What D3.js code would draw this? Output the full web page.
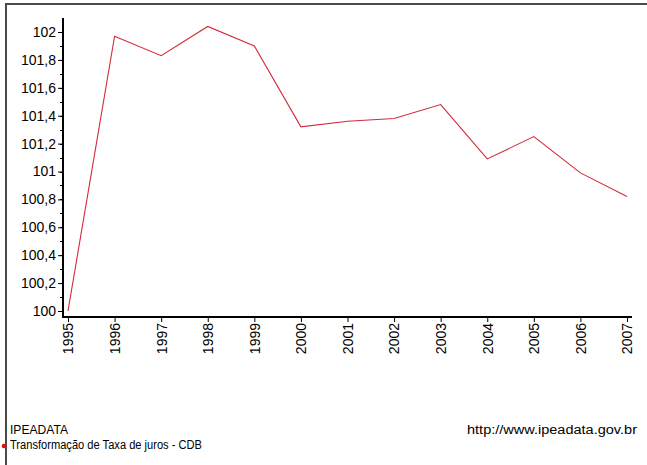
<!DOCTYPE html>
<html>
<head>
<meta charset="utf-8">
<script src="https://cdn.jsdelivr.net/npm/d3@7"></script>
<style>
  html, body { margin: 0; padding: 0; background: #fff; }
  svg { display: block; font-family: "Liberation Sans", Arial, sans-serif; }
</style>
</head>
<body>
<svg id="chart" width="647" height="465"></svg>
<script>
const years = [1995, 1996, 1997, 1998, 1999, 2000, 2001, 2002, 2003, 2004, 2005, 2006, 2007];
const values = [100.00, 101.97, 101.83, 102.04, 101.90, 101.32, 101.36, 101.38, 101.48, 101.09, 101.25, 100.99, 100.82];
const yTicks = [100, 100.2, 100.4, 100.6, 100.8, 101, 101.2, 101.4, 101.6, 101.8, 102];
const seriesName = "Transformação de Taxa de juros - CDB";
const sourceLabel = "IPEADATA";
const urlLabel = "http://www.ipeadata.gov.br";

const svg = d3.select("#chart");

// frame
svg.append("rect").attr("x", 6).attr("y", 4).attr("width", 660).attr("height", 480)
  .attr("fill", "none").attr("stroke", "#4a4a4a").attr("stroke-width", 2);

const x = d3.scalePoint().domain(years).range([68, 627]);
const y = d3.scaleLinear().domain([100, 102]).range([311, 32]);

const fmt = v => d3.format(".1~f")(v).replace(".", ",");

// minor ticks
const minor = d3.range(0, 21).map(i => 100 + i * 0.1);
svg.append("g").selectAll("line").data(minor).join("line")
  .attr("x1", 60).attr("x2", 63)
  .attr("y1", d => Math.round(y(d)) + 0.5).attr("y2", d => Math.round(y(d)) + 0.5)
  .attr("stroke", "#000");

const yAxis = d3.axisLeft(y).tickValues(yTicks).tickFormat(fmt).tickSize(5).tickPadding(2);
const gy = svg.append("g").attr("transform", "translate(63,0)").call(yAxis);
gy.select(".domain").remove();
gy.selectAll("text").attr("font-size", 14).attr("fill", "#000").attr("font-family", "Liberation Sans, Arial, sans-serif");

const xAxis = d3.axisBottom(x).tickSize(5).tickPadding(3);
const gx = svg.append("g").attr("transform", "translate(0,317)").call(xAxis);
gx.select(".domain").remove();
gx.selectAll("text")
  .attr("font-size", 14).attr("fill", "#000").attr("font-family", "Liberation Sans, Arial, sans-serif")
  .attr("text-anchor", "end").attr("dy", "0.35em")
  .attr("transform", "translate(0,6) rotate(-90)")
  .attr("x", 0).attr("y", 0);

// axis lines
svg.append("line").attr("x1", 63).attr("x2", 63).attr("y1", 18).attr("y2", 318)
  .attr("stroke", "#000").attr("stroke-width", 2);
svg.append("line").attr("x1", 62).attr("x2", 632).attr("y1", 317).attr("y2", 317)
  .attr("stroke", "#000").attr("stroke-width", 2);

// series line
const line = d3.line().x((d, i) => x(years[i])).y(d => y(d));
svg.append("path").datum(values).attr("d", line)
  .attr("fill", "none").attr("stroke", "#d42a3a").attr("stroke-width", 1.1);

// legend
svg.append("text").attr("x", 10).attr("y", 434).attr("font-size", 12.5).attr("fill", "#000")
  .attr("textLength", 58).attr("lengthAdjust", "spacingAndGlyphs").text(sourceLabel);
svg.append("circle").attr("cx", 4).attr("cy", 446).attr("r", 2.3).attr("fill", "#e01010");
svg.append("text").attr("x", 10).attr("y", 449).attr("font-size", 12.5).attr("fill", "#000")
  .attr("textLength", 192).attr("lengthAdjust", "spacingAndGlyphs").text(seriesName);
svg.append("text").attr("x", 637).attr("y", 434).attr("font-size", 12.5).attr("fill", "#000")
  .attr("text-anchor", "end").attr("textLength", 170).attr("lengthAdjust", "spacingAndGlyphs").text(urlLabel);
</script>
</body>
</html>
